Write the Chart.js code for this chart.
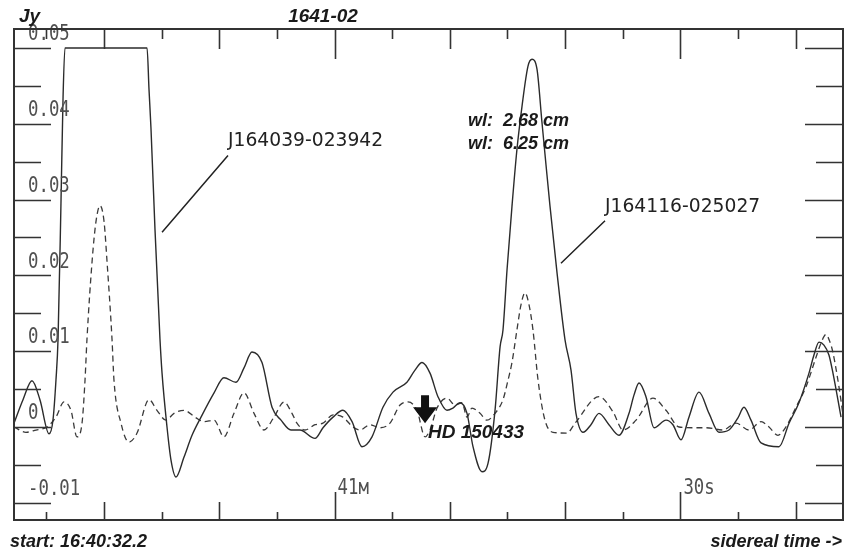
<!DOCTYPE html>
<html><head><meta charset="utf-8">
<script src="https://cdn.jsdelivr.net/npm/chart.js@4/dist/chart.umd.min.js"></script>
<style>html,body{margin:0;padding:0;background:#fff}#wrap{width:846px;height:553px}</style>
</head><body><div id="wrap"><canvas id="c" width="846" height="553"></canvas></div>
<script>
// seconds since start (16:40:32.2)
const solidTime = [0,0.78,1.56,2.25,3.04,3.38,3.64,3.82,4.08,4.25,4.42,11.54,11.71,11.88,12.23,12.66,12.84,13.27,13.62,14.05,14.74,15.44,16.22,17.35,18.21,19.25,19.95,20.64,21.51,22.38,23.16,24.02,24.8,26.11,26.8,27.67,28.53,29.32,30.18,31.05,32.0,32.87,34.08,34.78,35.39,36.08,36.77,37.55,38.07,38.68,39.29,39.81,40.59,41.11,41.72,42.16,42.41,42.76,43.19,43.62,44.06,44.58,44.93,45.36,45.79,46.14,46.49,47.1,47.79,48.31,48.74,49.35,50.04,50.74,51.6,52.47,53.34,53.77,54.21,54.81,55.51,56.55,57.15,57.85,58.54,59.41,60.28,61.14,62.01,62.79,63.31,63.92,64.79,66.35,67.22,68.08,68.95,69.38,69.82,70.25,70.68,71.03,71.73];
const solidFlux = [0.0005,0.0036,0.0061,0.0036,-0.0009,0.0009,0.0062,0.0116,0.03,0.0432,0.05,0.05,0.0445,0.0394,0.026,0.0116,0.0071,0.0,-0.0044,-0.0066,-0.004,-0.0011,0.0013,0.0045,0.0065,0.0059,0.0078,0.0099,0.0085,0.0026,0.0009,-0.0004,-0.0004,-0.0015,-0.0001,0.0013,0.0022,0.0007,-0.0026,-0.0013,0.0026,0.0046,0.0059,0.0075,0.0085,0.0071,0.004,0.0022,0.0025,0.0032,0.0018,-0.0026,-0.0059,-0.0048,0.0022,0.0106,0.0128,0.0207,0.0291,0.0366,0.0423,0.0476,0.0485,0.0472,0.0402,0.0346,0.0291,0.0203,0.0115,0.0075,0.0018,-0.0007,0.0003,0.0018,0.0003,-0.0011,0.0018,0.0042,0.0058,0.004,-0.0001,0.0009,0.0003,-0.0017,0.0013,0.0046,0.0018,-0.0007,-0.0004,0.0012,0.0026,0.0009,-0.0021,-0.0026,0.0005,0.0032,0.0071,0.0095,0.0112,0.0108,0.0095,0.0071,0.0013];
const dashedTime = [0,1.04,1.91,2.86,3.64,4.34,4.94,5.46,5.9,6.16,6.33,6.77,7.11,7.46,7.81,8.07,8.5,8.67,9.28,9.97,10.67,11.71,12.4,13.18,13.88,14.74,15.79,16.48,17.35,18.21,19.08,19.95,20.82,21.68,22.55,23.42,24.11,24.54,25.24,26.11,26.8,27.67,28.53,29.4,30.01,30.88,31.74,32.61,33.48,34.17,34.95,35.65,36.08,36.69,37.55,38.25,38.86,39.29,39.72,40.42,41.02,41.72,42.41,42.85,43.19,43.62,43.97,44.32,44.67,45.01,45.45,46.05,46.75,47.96,48.66,50.74,51.95,52.82,53.95,55.42,56.55,57.68,58.89,60.02,61.49,62.62,63.75,64.79,65.48,66.26,66.95,67.82,68.69,69.56,70.0,70.42,70.77,71.03,71.55,71.9];
const dashedFlux = [0,-0.0007,-0.0004,0,0.0013,0.0033,0.0022,-0.0013,0.0005,0.0062,0.0116,0.0218,0.0271,0.0292,0.0271,0.0218,0.0116,0.0062,0.0005,-0.002,-0.0008,0.0036,0.0022,0.0009,0.0018,0.0022,0.0012,0.0007,0.0009,-0.0013,0.0018,0.0045,0.0018,-0.0004,0.0013,0.0033,0.0018,0.0005,-0.0004,0.0003,0.0005,0.0016,0.0013,0,-0.0004,0.0003,-0.0001,0.0005,0.0029,0.0033,0.0022,-0.0013,-0.0004,0.0025,0.0038,0.0029,0.0032,0.0013,0.0025,0.0018,0.0009,0.0018,0.0036,0.0062,0.0085,0.0128,0.0161,0.0177,0.0161,0.0128,0.0062,0.0009,-0.0007,-0.0008,0.0005,0.004,0.002,-0.0004,0.0009,0.0038,0.0022,0,-0.0001,-0.0001,-0.0004,0.0005,-0.0004,0.0007,0,-0.0011,0,0.0026,0.0053,0.0092,0.0111,0.0122,0.0112,0.0098,0.0053,0.0016];

const xTickTimes = [2.8,7.8,12.8,17.8,22.8,27.8,32.8,37.8,42.8,47.8,52.8,57.8,62.8,67.8];
const minuteMark = 27.8;
const xLabelTimes = [27.8, 57.8];
const xLabelTexts = ['41м', '30s'];
const yTickValues = [-0.01,-0.005,0,0.005,0.01,0.015,0.02,0.025,0.03,0.035,0.04,0.045,0.05];
const yLabelValues = [-0.01,0,0.01,0.02,0.03,0.04,0.05];
const yLabelTexts = ['-0.01','0','0.01','0.02','0.03','0.04','0.05'];

const toPts = (t, f) => t.map((v, i) => ({x: v, y: f[i]}));

const deco = {
  id: 'deco',
  beforeDraw(chart) {
    const ctx = chart.ctx;
    ctx.save(); ctx.fillStyle = '#fff'; ctx.fillRect(0, 0, chart.width, chart.height); ctx.restore();
  },
  afterDatasetsDraw(chart) {
    const {ctx, chartArea: a, scales: {x, y}} = chart;
    ctx.save();
    // y labels
    ctx.fillStyle = '#505050';
    ctx.font = '17px "DejaVu Sans Mono"';
    ctx.textBaseline = 'middle'; ctx.textAlign = 'left';
    yLabelValues.forEach((v, i) => {
      const py = y.getPixelForValue(v);
      ctx.save(); ctx.translate(a.left + 14, py - 13); ctx.scale(1.02, 1.2);
      ctx.fillText(yLabelTexts[i], 0, 0); ctx.restore();
    });
    xLabelTimes.forEach((t, i) => {
      const px = x.getPixelForValue(t);
      ctx.save(); ctx.translate(px + 3, a.bottom - 31); ctx.scale(1.02, 1.2);
      ctx.fillText(xLabelTexts[i], 0, 0); ctx.restore();
    });
    // frame
    ctx.strokeStyle = '#333'; ctx.lineWidth = 2;
    ctx.strokeRect(a.left, a.top, a.right - a.left, a.bottom - a.top);
    // ticks
    ctx.lineWidth = 1.6;
    ctx.beginPath();
    xTickTimes.forEach(t => {
      const px = Math.round(x.getPixelForValue(t)) + 0.5;
      const off = ((Math.round(t - minuteMark) % 30) + 30) % 30;
      const kind = off === 0 ? 2 : (off % 10 === 0 ? 1 : 0);
      const bl = [8, 18, 28][kind], tl = [10, 20, 30][kind];
      ctx.moveTo(px, a.bottom); ctx.lineTo(px, a.bottom - bl);
      ctx.moveTo(px, a.top); ctx.lineTo(px, a.top + tl);
    });
    yTickValues.forEach(v => {
      const py = Math.round(y.getPixelForValue(v)) + 0.5;
      const major = Math.abs(Math.round(v * 1000) % 10) === 0;
      const ll = major ? 37 : 27, rl = major ? 38 : 27;
      ctx.moveTo(a.left, py); ctx.lineTo(a.left + ll, py);
      ctx.moveTo(a.right, py); ctx.lineTo(a.right - rl, py);
    });
    ctx.stroke();

    // outer titles
    ctx.fillStyle = '#1a1a1a';
    ctx.textBaseline = 'middle';
    ctx.textAlign = 'left';
    ctx.font = 'italic bold 19px "Liberation Sans"';
    ctx.fillText('Jy', 19, 17);
    ctx.textAlign = 'center';
    ctx.fillText('1641-02', 323, 17);
    ctx.font = 'italic bold 18px "Liberation Sans"';
    ctx.textAlign = 'left';
    ctx.fillText('start: 16:40:32.2', 10, 542);
    ctx.textAlign = 'right';
    ctx.fillText('sidereal time ->', 842, 542);

    // annotations (data coordinates)
    const P = (t, v) => [x.getPixelForValue(t), y.getPixelForValue(v)];
    ctx.textAlign = 'left';
    ctx.font = 'italic bold 18px "Liberation Sans"';
    let p = P(39.38, 0.0403); ctx.fillText('wl:  2.68 cm', p[0], p[1]);
    p = P(39.38, 0.0373); ctx.fillText('wl:  6.25 cm', p[0], p[1]);
    ctx.font = 'italic bold 19px "Liberation Sans"';
    p = P(35.9, -0.0007); ctx.fillText('HD 150433', p[0], p[1]);

    ctx.font = '18px "DejaVu Sans"';
    ctx.fillStyle = '#222';
    p = P(18.56, 0.0377);
    ctx.save(); ctx.translate(p[0], p[1]); ctx.scale(1.04, 1.1); ctx.fillText('J164039-023942', 0, 0); ctx.restore();
    p = P(51.26, 0.029);
    ctx.save(); ctx.translate(p[0], p[1]); ctx.scale(1.04, 1.1); ctx.fillText('J164116-025027', 0, 0); ctx.restore();
    ctx.strokeStyle = '#222'; ctx.lineWidth = 1.5;
    ctx.beginPath();
    let s = P(18.56, 0.0358), e = P(12.84, 0.0257);
    ctx.moveTo(s[0], s[1]); ctx.lineTo(e[0], e[1]);
    s = P(51.26, 0.0272); e = P(47.44, 0.0216);
    ctx.moveTo(s[0], s[1]); ctx.lineTo(e[0], e[1]);
    ctx.stroke();

    // arrow
    const top = P(35.65, 0.0042), tip = P(35.65, 0.0005);
    const cx = top[0];
    ctx.fillStyle = '#111';
    ctx.beginPath();
    ctx.moveTo(cx - 4, top[1]); ctx.lineTo(cx + 4, top[1]);
    ctx.lineTo(cx + 4, top[1] + 12); ctx.lineTo(cx + 12, top[1] + 12);
    ctx.lineTo(cx, tip[1]); ctx.lineTo(cx - 12, top[1] + 12);
    ctx.lineTo(cx - 4, top[1] + 12); ctx.closePath(); ctx.fill();
    ctx.restore();
  }
};

new Chart(document.getElementById('c'), {
  type: 'line',
  data: {
    datasets: [
      {data: toPts(solidTime, solidFlux), borderColor: '#2b2b2b', borderWidth: 1.4, pointRadius: 0, cubicInterpolationMode: 'monotone', fill: false},
      {data: toPts(dashedTime, dashedFlux), borderColor: '#3a3a3a', borderWidth: 1.3, borderDash: [6, 4], pointRadius: 0, cubicInterpolationMode: 'monotone', fill: false}
    ]
  },
  options: {
    responsive: false, animation: false, devicePixelRatio: 1,
    layout: {padding: {left: 14, right: 3, top: 29, bottom: 33}},
    plugins: {legend: {display: false}, tooltip: {enabled: false}},
    scales: {
      x: {type: 'linear', min: 0, max: 71.9, display: false},
      y: {type: 'linear', min: -0.01227, max: 0.0525, display: false}
    }
  },
  plugins: [deco]
});
</script>
</body></html>
